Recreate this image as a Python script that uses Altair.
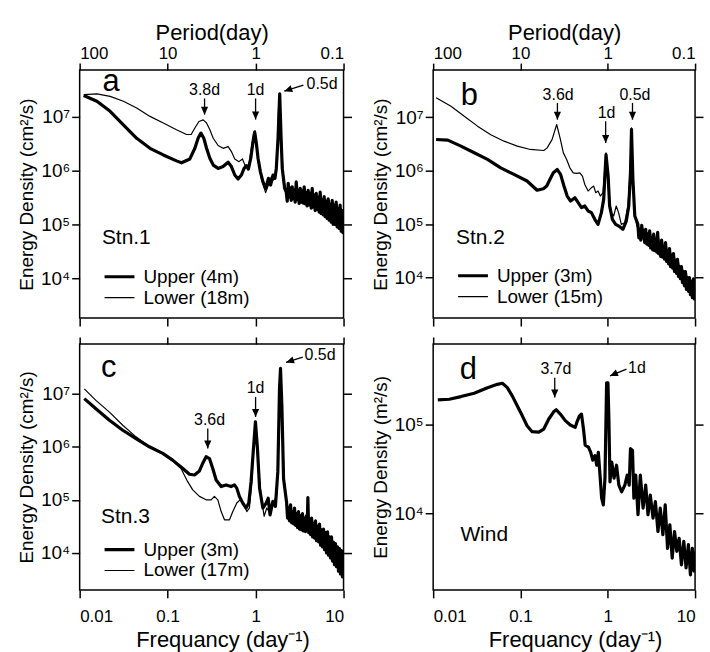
import altair as alt
import pandas as pd

FONT = "Liberation Sans"
FREQ_TICKS = [0.01, 0.1, 1, 10]
ARROW_HEAD = "M0,0L-0.45,-1L0.45,-1Z"

# ---------------- Panel a : Stn.1 ----------------
A_NAMES = ["Upper (4m)", "Lower (18m)"]
A_UPPER = [(0.0111, 2.49e7), (0.0157, 1.95e7), (0.0222, 1.27e7), (0.0314, 7.1e6), (0.0445, 4.0e6),
           (0.063, 2.6e6), (0.0893, 1.96e6), (0.126, 1.52e6), (0.144, 1.4e6), (0.179, 1.65e6),
           (0.204, 2.61e6), (0.222, 4.0e6), (0.239, 4.98e6), (0.258, 4.0e6), (0.277, 2.61e6),
           (0.302, 1.70e6), (0.330, 1.27e6), (0.375, 1.10e6), (0.427, 1.19e6), (0.487, 1.43e6),
           (0.531, 1.19e6), (0.580, 8.3e5), (0.632, 7.0e5), (0.690, 8.3e5), (0.740, 1.10e6),
           (0.785, 1.24e6), (0.828, 1.07e6), (0.881, 1.70e6), (0.936, 3.48e6), (0.977, 5.2e6),
           (1.02, 3.24e6), (1.066, 1.70e6), (1.133, 9.6e5), (1.213, 6.2e5), (1.30, 4.67e5),
           (1.40, 7.2e5), (1.48, 5.4e5), (1.58, 8.3e5), (1.66, 7.2e5), (1.72, 1.1e6),
           (1.80, 4.0e6), (1.88, 2.67e7), (1.95, 4.0e6), (2.01, 1.1e6), (2.14, 4.67e5),
           (2.23, 4.0e5), (2.29, 2.7e5), (2.35, 5.8e5), (2.41, 3.2e5), (2.48, 4.8e5),
           (2.54, 2.8e5), (2.61, 5.0e5), (2.68, 3.0e5), (2.75, 4.4e5), (2.82, 2.6e5),
           (2.90, 6.2e5), (2.97, 2.9e5), (3.05, 4.3e5), (3.13, 2.45e5), (3.22, 4.7e5),
           (3.30, 2.6e5), (3.39, 4.2e5), (3.48, 2.5e5), (3.57, 5.0e5), (3.67, 2.4e5),
           (3.77, 3.9e5), (3.86, 2.2e5), (3.96, 4.3e5), (4.07, 2.3e5), (4.18, 3.8e5),
           (4.29, 2.0e5), (4.40, 4.7e5), (4.52, 2.1e5), (4.64, 3.5e5), (4.76, 1.8e5),
           (4.89, 3.8e5), (5.02, 1.9e5), (5.15, 3.2e5), (5.28, 1.7e5), (5.42, 4.0e5),
           (5.56, 1.6e5), (5.71, 2.9e5), (5.86, 1.5e5), (6.02, 3.3e5), (6.18, 1.4e5),
           (6.35, 2.7e5), (6.51, 1.3e5), (6.68, 3.0e5), (6.86, 1.2e5), (7.05, 2.4e5),
           (7.24, 1.1e5), (7.43, 2.8e5), (7.62, 1.0e5), (7.82, 2.3e5), (8.03, 1.0e5),
           (8.24, 2.6e5), (8.46, 9e4), (8.68, 2.0e5), (8.91, 8.4e4), (9.14, 2.3e5),
           (9.39, 7.5e4), (9.64, 1.8e5), (9.85, 7e4), (10.0, 1.5e5)]
A_LOWER = [(0.0111, 2.6e7), (0.0157, 2.67e7), (0.0222, 2.4e7), (0.0314, 1.95e7), (0.0445, 1.46e7),
           (0.063, 1.02e7), (0.0893, 7.7e6), (0.126, 5.75e6), (0.164, 4.7e6), (0.185, 4.7e6),
           (0.204, 6.2e6), (0.227, 8.2e6), (0.254, 8.8e6), (0.277, 7.7e6), (0.302, 5.75e6),
           (0.330, 4.0e6), (0.375, 2.93e6), (0.427, 2.6e6), (0.487, 2.8e6), (0.531, 2.26e6),
           (0.580, 1.65e6), (0.649, 1.47e6), (0.709, 1.65e6), (0.760, 1.24e6), (0.803, 1.14e6),
           (0.852, 1.47e6), (0.895, 2.6e6), (0.953, 5.0e6), (0.987, 5.5e6), (1.04, 2.6e6),
           (1.09, 1.27e6), (1.16, 7.2e5), (1.24, 5.0e5), (1.30, 3.9e5), (1.40, 5.4e5),
           (1.51, 7.7e5), (1.60, 6.7e5), (1.69, 8.9e5), (1.75, 1.7e6), (1.83, 1.69e7),
           (1.88, 2.4e7), (1.96, 4.0e6), (2.05, 9.6e5), (2.16, 5.0e5),
           (2.29, 3.5e5), (2.42, 5.2e5), (2.55, 3.0e5), (2.68, 4.6e5), (2.83, 3.2e5),
           (2.98, 5.5e5), (3.13, 2.6e5), (3.30, 4.2e5), (3.48, 2.8e5), (3.67, 4.5e5),
           (3.86, 2.5e5), (4.07, 4.0e5), (4.29, 2.6e5), (4.52, 4.2e5), (4.76, 2.2e5),
           (5.02, 3.5e5), (5.28, 2.3e5), (5.56, 3.6e5), (5.86, 1.7e5), (6.18, 3.0e5),
           (6.51, 1.9e5), (6.86, 2.8e5), (7.24, 1.2e5), (7.62, 2.5e5), (8.03, 1.5e5),
           (8.46, 2.4e5), (8.91, 9e4), (9.39, 2.0e5), (9.85, 1.1e5)]
A_NOTES_C = [("3.8d", 0.263, 2.6e7), ("1d", 1.0, 2.6e7)]
A_NOTES_L = [("0.5d", 3.8, 3.3e7)]
A_ARROWS = [(0.263, 2.2e7, 0.263, 1.1e7, 0), (1.0, 2.2e7, 1.0, 8.9e6, 0),
            (3.5, 3.9e7, 2.12, 3.0e7, 70.7)]
A_LETTER = [("a", 0.0227, 3.0e7)]
A_TAG = [("Stn.1", 0.0179, 4.4e4)]

# ---------------- Panel b : Stn.2 ----------------
B_NAMES = ["Upper (3m)", "Lower (15m)"]
B_UPPER = [(0.0108, 3.83e6), (0.0147, 3.72e6), (0.0208, 2.87e6), (0.0295, 2.16e6), (0.0419, 1.62e6),
           (0.0594, 1.13e6), (0.0842, 8.5e5), (0.119, 6.4e5), (0.155, 4.3e5), (0.183, 4.6e5),
           (0.200, 5.15e5), (0.218, 6.9e5), (0.238, 9.1e5), (0.264, 1.05e6), (0.288, 8.5e5),
           (0.315, 5.15e5), (0.343, 3.35e5), (0.375, 2.7e5), (0.420, 3.12e5), (0.458, 2.52e5),
           (0.500, 2.03e5), (0.546, 2.18e5), (0.595, 1.76e5), (0.650, 1.64e5), (0.710, 1.23e5),
           (0.774, 9.9e4), (0.845, 1.64e5), (0.898, 2.9e5), (0.955, 2.0e6), (1.01, 7.9e5),
           (1.05, 2.18e5), (1.13, 1.23e5), (1.23, 9.9e4), (1.34, 9.2e4), (1.49, 8.0e4),
           (1.63, 1.14e5), (1.74, 2.18e5), (1.82, 9.1e5), (1.87, 5.9e6), (1.94, 6.9e5),
           (2.04, 1.42e5),
           (2.21, 1.0e5), (2.27, 5.5e4), (2.33, 8.0e4), (2.39, 5.0e4), (2.45, 9.5e4),
           (2.52, 5.5e4), (2.58, 7.5e4), (2.65, 4.5e4), (2.72, 8.0e4), (2.80, 4.2e4),
           (2.87, 6.5e4), (2.95, 4.0e4), (3.02, 7.5e4), (3.10, 3.6e4), (3.18, 5.5e4),
           (3.27, 3.3e4), (3.36, 6.5e4), (3.45, 3.2e4), (3.54, 5.0e4), (3.64, 3.0e4),
           (3.73, 7.0e4), (3.83, 2.8e4), (3.93, 4.5e4), (4.04, 2.5e4), (4.14, 5.0e4),
           (4.25, 2.4e4), (4.36, 3.8e4), (4.48, 2.2e4), (4.59, 4.5e4), (4.72, 2.0e4),
           (4.84, 3.2e4), (4.97, 1.8e4), (5.10, 3.5e4), (5.24, 1.6e4), (5.38, 2.6e4),
           (5.52, 1.5e4), (5.66, 2.8e4), (5.81, 1.3e4), (5.97, 2.1e4), (6.13, 1.2e4),
           (6.29, 2.2e4), (6.46, 1.05e4), (6.63, 1.6e4), (6.80, 9.5e3), (6.98, 1.6e4),
           (7.17, 8e3), (7.36, 1.3e4), (7.56, 7e3), (7.76, 1.3e4), (7.97, 6e3),
           (8.18, 1.0e4), (8.40, 5.5e3), (8.62, 1.0e4), (8.85, 4.8e3), (9.08, 8.5e3),
           (9.32, 4.2e3), (9.57, 9.5e3), (9.80, 4.0e3), (10.0, 7e3)]
B_LOWER = [(0.0108, 2.3e7), (0.016, 1.6e7), (0.0227, 1.04e7), (0.0322, 6.8e6), (0.0457, 4.7e6),
           (0.0648, 3.56e6), (0.0919, 2.87e6), (0.130, 2.49e6), (0.185, 2.38e6), (0.202, 2.67e6),
           (0.230, 3.8e6), (0.260, 7.3e6), (0.284, 4.1e6), (0.310, 2.15e6), (0.338, 1.62e6),
           (0.368, 1.13e6), (0.402, 9.1e5), (0.439, 8.9e5), (0.478, 9.1e5), (0.513, 7.9e5),
           (0.546, 5.5e5), (0.595, 4.15e5), (0.650, 4.8e5), (0.690, 5.15e5), (0.727, 3.87e5),
           (0.774, 4.15e5), (0.822, 3.35e5), (0.883, 3.87e5), (0.922, 1.05e6), (0.955, 2.15e6),
           (0.989, 9.1e5), (1.03, 3.35e5), (1.10, 1.64e5), (1.17, 1.42e5), (1.25, 2.18e5),
           (1.33, 1.64e5), (1.43, 9.9e4), (1.56, 1.06e5), (1.70, 2.18e5), (1.80, 9.1e5),
           (1.87, 6.3e6), (1.94, 9.1e5), (2.04, 1.64e5), (2.15, 9.2e4),
           (2.27, 8.0e4), (2.39, 5.0e4), (2.52, 8.5e4), (2.65, 4.8e4), (2.80, 7.0e4),
           (2.95, 4.2e4), (3.10, 6.5e4), (3.27, 3.5e4), (3.45, 6.0e4), (3.64, 3.5e4),
           (3.83, 5.5e4), (4.04, 2.8e4), (4.25, 4.5e4), (4.48, 2.5e4), (4.72, 3.8e4),
           (4.97, 2.0e4), (5.24, 3.0e4), (5.52, 1.7e4), (5.81, 2.5e4), (6.13, 1.3e4),
           (6.46, 2.0e4), (6.80, 1.1e4), (7.17, 1.5e4), (7.56, 8e3), (7.97, 1.2e4),
           (8.40, 6e3), (8.85, 9e3), (9.32, 4.5e3), (9.80, 8e3)]
B_NOTES_C = [("3.6d", 0.27, 2.1e7), ("1d", 0.97, 9.7e6), ("0.5d", 2.05, 2.1e7)]
B_NOTES_L = []
B_ARROWS = [(0.265, 1.85e7, 0.265, 9.0e6, 0), (0.946, 8.4e6, 0.946, 3.3e6, 0),
            (1.92, 1.85e7, 1.92, 9.0e6, 0)]
B_LETTER = [("b", 0.0259, 1.72e7)]
B_TAG = [("Stn.2", 0.0183, 4.2e4)]

# ---------------- Panel c : Stn.3 ----------------
C_NAMES = ["Upper (3m)", "Lower (17m)"]
C_UPPER = [(0.0113, 8.1e6), (0.0153, 5.2e6), (0.0218, 3.16e6), (0.0309, 2.05e6), (0.0437, 1.43e6),
           (0.062, 1.0e6), (0.088, 7.5e5), (0.114, 5.6e5), (0.149, 3.9e5), (0.177, 3.03e5),
           (0.202, 2.94e5), (0.230, 3.5e5), (0.251, 4.9e5), (0.274, 6.5e5), (0.299, 6.0e5),
           (0.326, 3.9e5), (0.356, 2.37e5), (0.406, 1.78e5), (0.462, 1.91e5), (0.527, 1.78e5),
           (0.575, 1.91e5), (0.611, 1.66e5), (0.655, 1.16e5), (0.714, 8.7e4), (0.780, 7.0e4),
           (0.837, 8.7e4), (0.889, 2.2e5), (0.946, 9.3e5), (0.996, 2.94e6), (1.05, 9.3e5),
           (1.11, 1.66e5), (1.21, 7.0e4), (1.32, 8.7e4), (1.39, 1.07e5), (1.46, 5.2e4),
           (1.57, 9.3e4), (1.68, 7.5e4), (1.79, 3.4e5), (1.87, 1.24e7), (1.92, 3.0e7),
           (1.99, 6.0e6), (2.08, 2.5e5),
           (2.25, 9.0e4), (2.31, 4.5e4), (2.37, 7.0e4), (2.43, 4.0e4), (2.50, 8.0e4),
           (2.56, 3.8e4), (2.63, 6.0e4), (2.70, 3.5e4), (2.77, 7.0e4), (2.85, 3.3e4),
           (2.92, 5.5e4), (3.00, 3.0e4), (3.07, 6.0e4), (3.16, 2.8e4), (3.24, 5.0e4),
           (3.33, 2.7e4), (3.41, 5.5e4), (3.50, 2.6e4), (3.59, 4.5e4), (3.69, 2.5e4),
           (3.78, 5.0e4), (3.86, 3.0e4), (3.93, 1.1e5), (4.02, 2.4e4), (4.10, 4.2e4),
           (4.22, 2.2e4), (4.33, 4.5e4), (4.45, 2.0e4), (4.56, 3.6e4), (4.68, 1.9e4),
           (4.80, 4.0e4), (4.93, 1.7e4), (5.06, 3.2e4), (5.20, 1.6e4), (5.33, 3.5e4),
           (5.48, 1.4e4), (5.62, 2.7e4), (5.77, 1.3e4), (5.92, 2.8e4), (6.08, 1.15e4),
           (6.24, 2.4e4), (6.40, 1.0e4), (6.57, 2.5e4), (6.74, 9e3), (6.92, 2.0e4),
           (7.10, 8e3), (7.29, 2.0e4), (7.48, 7e3), (7.68, 1.6e4), (7.88, 6e3),
           (8.09, 1.5e4), (8.30, 5.5e3), (8.53, 1.3e4), (8.75, 4.5e3), (8.98, 1.2e4),
           (9.22, 4e3), (9.46, 1.1e4), (9.72, 3.5e3), (10.0, 1.0e4)]
C_LOWER = [(0.0113, 1.24e7), (0.0153, 7.5e6), (0.0218, 4.5e6), (0.0309, 2.55e6), (0.0437, 1.54e6),
           (0.062, 1.0e6), (0.088, 7.5e5), (0.114, 5.4e5), (0.142, 3.9e5), (0.169, 2.2e5),
           (0.193, 1.54e5), (0.230, 1.16e5), (0.274, 1.0e5), (0.312, 1.0e5), (0.340, 1.16e5),
           (0.372, 1.0e5), (0.406, 6.0e4), (0.443, 4.2e4), (0.505, 4.2e4), (0.551, 6.0e4),
           (0.611, 8.7e4), (0.667, 1.0e5), (0.728, 8.7e4), (0.794, 6.0e4), (0.851, 7.0e4),
           (0.906, 2.2e5), (0.962, 1.43e6), (0.996, 2.55e6), (1.05, 7.0e5), (1.15, 1.24e5),
           (1.25, 4.9e4), (1.34, 7.0e4), (1.46, 5.6e4), (1.60, 8.7e4), (1.74, 1.24e5),
           (1.84, 1.43e6), (1.92, 2.55e7), (2.0, 2.94e6), (2.13, 1.66e5), (2.26, 9.3e4),
           (2.40, 6e4), (2.55, 3.5e4), (2.70, 6.5e4), (2.85, 3.5e4), (3.00, 5.5e4),
           (3.16, 3.0e4), (3.33, 5.0e4), (3.50, 2.8e4), (3.69, 4.5e4), (3.88, 2.6e4),
           (4.22, 3.8e4), (4.45, 2.2e4), (4.68, 3.6e4), (4.93, 1.9e4), (5.20, 3.0e4),
           (5.48, 1.5e4), (5.77, 2.6e4), (6.08, 1.2e4), (6.40, 2.2e4), (6.74, 1.0e4),
           (7.10, 1.8e4), (7.48, 7.5e3), (7.88, 1.4e4), (8.30, 5.5e3), (8.75, 1.1e4),
           (9.22, 4.5e3), (9.72, 9e3)]
C_NOTES_C = [("3.6d", 0.30, 2.55e6), ("1d", 1.0, 1.04e7)]
C_NOTES_L = [("0.5d", 3.6, 4.3e7)]
C_ARROWS = [(0.286, 2.2e6, 0.286, 9.3e5, 0), (1.0, 8.7e6, 1.0, 3.65e6, 0),
            (3.44, 4.9e7, 2.22, 3.9e7, 72.0)]
C_LETTER = [("c", 0.0214, 2.06e7)]
C_TAG = [("Stn.3", 0.0175, 3.66e4)]

# ---------------- Panel d : Wind ----------------
D_NAMES = ["Wind"]
D_WIND = [(0.0113, 1.93e5), (0.0153, 1.96e5), (0.0208, 2.1e5), (0.0295, 2.29e5), (0.0419, 2.65e5),
          (0.0544, 2.89e5), (0.062, 2.97e5), (0.0707, 2.65e5), (0.0805, 2.14e5), (0.0918, 1.65e5),
          (0.105, 1.27e5), (0.119, 9.8e4), (0.136, 8.4e4), (0.162, 8.3e4), (0.185, 9.0e4),
          (0.211, 1.17e5), (0.240, 1.41e5), (0.257, 1.49e5), (0.286, 1.33e5), (0.326, 1.12e5),
          (0.372, 1.0e5), (0.424, 9.4e4), (0.442, 1.07e5), (0.474, 1.27e5), (0.500, 1.33e5),
          (0.527, 9.0e4), (0.551, 5.9e4), (0.601, 5.6e4), (0.638, 4.9e4), (0.673, 4.0e4),
          (0.715, 4.5e4), (0.747, 3.5e4), (0.780, 4.9e4), (0.815, 2.7e4), (0.851, 1.48e4),
          (0.889, 1.24e4), (0.929, 2.5e4), (0.970, 3.01e5), (1.005, 3.0e5), (1.03, 1.17e5),
          (1.06, 2.27e4), (1.11, 3.8e4), (1.18, 2.5e4), (1.26, 3.5e4), (1.34, 2.08e4),
          (1.44, 1.75e4), (1.57, 2.08e4), (1.67, 2.7e4), (1.76, 2.08e4), (1.82, 5.4e4),
          (1.92, 5.15e4), (1.99, 1.48e4), (2.09, 2.7e4), (2.22, 9.6e3), (2.36, 2.7e4),
          (2.54, 1.14e4), (2.72, 2.08e4), (2.89, 9.6e3), (3.07, 1.6e4), (3.30, 8.8e3),
          (3.51, 1.35e4), (3.76, 6.2e3), (3.99, 1.14e4), (4.28, 5.7e3), (4.55, 1.24e4),
          (4.84, 4.0e3), (5.14, 7.4e3), (5.47, 3.1e3), (5.82, 6.2e3), (6.18, 3.7e3),
          (6.57, 5.2e3), (6.98, 2.6e3), (7.43, 4.8e3), (7.89, 2.4e3), (8.39, 4.4e3),
          (8.85, 2.0e3), (9.32, 4.0e3), (9.73, 2.2e3), (10.0, 3.7e3)]
D_NOTES_C = [("3.7d", 0.255, 3.74e5)]
D_NOTES_L = [("1d", 1.71, 3.9e5)]
D_ARROWS = [(0.247, 3.43e5, 0.247, 2.05e5, 0), (1.64, 4.3e5, 1.06, 3.6e5, 66.4)]
D_LETTER = [("d", 0.0252, 3.29e5)]
D_TAG = [("Wind", 0.0205, 4.8e3)]

Y_LABEL_EXPR = ("datum.value == 1000 ? '10\u00b3' : datum.value == 10000 ? '10\u2074' : "
                "datum.value == 100000 ? '10\u2075' : datum.value == 1000000 ? '10\u2076' : "
                "datum.value == 10000000 ? '10\u2077' : ''")


def panel(series, names, widths, ydom, yticks, ytitle, top_labels, bottom_labels,
          letter, tag, notes_c, notes_l, arrows, width, height, legend_y):
    xs = alt.Scale(type="log", domain=[0.01, 10])
    ys = alt.Scale(type="log", domain=ydom)
    df = pd.concat([pd.DataFrame(p, columns=["f", "E"]).assign(series=n)
                    for p, n in zip(series, names)], ignore_index=True)

    base = dict(domain=False, grid=False, tickColor="black", tickWidth=1.5,
                labelColor="black", titleColor="black", labelFont=FONT, titleFont=FONT,
                titleFontWeight="normal")
    x_bottom = alt.Axis(orient="bottom", values=FREQ_TICKS, labels=bottom_labels, format="~g",
                        tickSize=8, labelFontSize=17, labelPadding=11,
                        title="Frequancy (day\u207b\u00b9)" if bottom_labels else None,
                        titleFontSize=22, titlePadding=5, titleX=width / 2 + 11, **base)
    x_top = alt.Axis(orient="top", values=FREQ_TICKS, labels=top_labels, tickSize=7,
                     labelExpr="format(1 / datum.value, '~g')", labelFontSize=17, labelPadding=1,
                     title="Period(day)" if top_labels else None, titleFontSize=22,
                     titlePadding=0, **base)
    y_left = alt.Axis(orient="left", values=yticks, labelExpr=Y_LABEL_EXPR, labelFontSize=19,
                      tickSize=8, labelPadding=2, title=ytitle, titleFontSize=19,
                      titlePadding=4, **base)
    y_right = alt.Axis(orient="right", values=yticks, labels=False, tickSize=8, title=None,
                       **base)

    x_enc = alt.X("f:Q", scale=xs, axis=x_bottom)
    y_enc = alt.Y("E:Q", scale=ys, axis=y_left)
    if len(names) > 1:
        legend = alt.Legend(orient="none", legendX=23, legendY=legend_y, title=None,
                            symbolType="stroke", symbolSize=900, symbolStrokeColor="black",
                            clipHeight=17, rowPadding=1, labelFont=FONT, labelFontSize=19,
                            labelColor="black", labelOffset=7, padding=0, labelLimit=300)
        lines = alt.Chart(df).mark_line(color="black", clip=True, strokeJoin="round").encode(
            x=x_enc, y=y_enc,
            strokeWidth=alt.StrokeWidth("series:N",
                                        scale=alt.Scale(domain=names, range=widths),
                                        legend=legend),
        )
    else:
        lines = alt.Chart(df).mark_line(color="black", clip=True, strokeJoin="round",
                                        strokeWidth=widths[0]).encode(x=x_enc, y=y_enc)

    carrier = alt.Chart(df).mark_point(opacity=0).encode(
        x=alt.X("f:Q", scale=xs, axis=x_top),
        y=alt.Y("E:Q", scale=ys, axis=y_right),
    )

    def text_layer(rows, align, size):
        d = pd.DataFrame(rows, columns=["label", "f", "E"])
        return alt.Chart(d).mark_text(align=align, baseline="alphabetic", font=FONT,
                                      fontSize=size, color="black").encode(
            x=alt.X("f:Q", scale=xs, axis=None),
            y=alt.Y("E:Q", scale=ys, axis=None),
            text="label:N",
        )

    ad = pd.DataFrame(arrows, columns=["f0", "E0", "f1", "E1", "angle"])
    shafts = alt.Chart(ad).mark_rule(color="black", strokeWidth=1.3).encode(
        x=alt.X("f0:Q", scale=xs, axis=None), x2="f1:Q",
        y=alt.Y("E0:Q", scale=ys, axis=None), y2="E1:Q",
    )
    heads = alt.Chart(ad).mark_point(shape=ARROW_HEAD, filled=True, size=256, color="black",
                                     opacity=1, strokeWidth=0).encode(
        x=alt.X("f1:Q", scale=xs, axis=None),
        y=alt.Y("E1:Q", scale=ys, axis=None),
        angle=alt.Angle("angle:Q", scale=None),
    )

    layers = [lines, carrier, shafts, heads,
              text_layer(letter, "center", 31), text_layer(tag, "left", 21)]
    if notes_c:
        layers.append(text_layer(notes_c, "center", 16))
    if notes_l:
        layers.append(text_layer(notes_l, "left", 16))
    return alt.layer(*layers).resolve_axis(x="independent", y="independent").properties(
        width=width, height=height)


Y_TICKS_CUR = [1e4, 1e5, 1e6, 1e7]
pa = panel([A_UPPER, A_LOWER], A_NAMES, [3.2, 1.2], [1.82e3, 7.4e7], Y_TICKS_CUR,
           "Energy Density (cm\u00b2/s)", True, False, A_LETTER, A_TAG, A_NOTES_C, A_NOTES_L,
           A_ARROWS, 265, 249, 199)
pb = panel([B_UPPER, B_LOWER], B_NAMES, [3.2, 1.2], [1.75e3, 7.6e7], Y_TICKS_CUR,
           "Energy Density (cm\u00b2/s)", True, False, B_LETTER, B_TAG, B_NOTES_C, B_NOTES_L,
           B_ARROWS, 263, 249, 198)
pc = panel([C_UPPER, C_LOWER], C_NAMES, [3.2, 1.2], [2.0e3, 8.7e7], Y_TICKS_CUR,
           "Energy Density (cm\u00b2/s)", False, True, C_LETTER, C_TAG, C_NOTES_C, C_NOTES_L,
           C_ARROWS, 265, 247, 198)
pd_ = panel([D_WIND], D_NAMES, [3.2], [1.35e3, 8.3e5], [1e4, 1e5],
            "Energy Density (m\u00b2/s)", False, True, D_LETTER, D_TAG, D_NOTES_C, D_NOTES_L,
            D_ARROWS, 263, 247, 0)

chart = alt.concat(
    pa, pb, pc, pd_, columns=2, bounds="flush",
    spacing=alt.RowColnumber(row=26, column=90),
).resolve_scale(strokeWidth="independent").resolve_legend(strokeWidth="independent").properties(
    padding={"left": 16, "top": 19, "right": 5, "bottom": 5}, background="white"
).configure_view(stroke="black", strokeWidth=1.5)

chart.save("out.html", embed_options={"renderer": "svg", "actions": False})
